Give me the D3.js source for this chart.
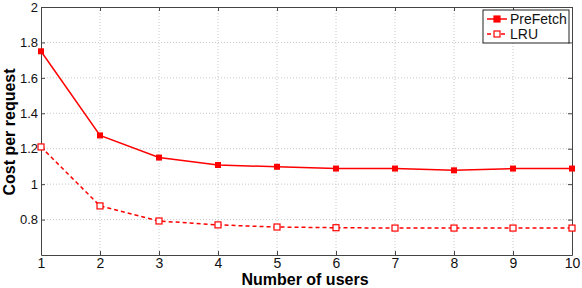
<!DOCTYPE html>
<html>
<head>
<meta charset="utf-8">
<script src="https://cdn.jsdelivr.net/npm/d3@7"></script>
<style>
  body { margin: 0; background: #fff; }
  svg { font-family: "Liberation Sans", Arial, sans-serif; }
  .grid line { stroke: #c8c8c8; stroke-dasharray: 1,2; }
</style>
</head>
<body>
<div id="chart"></div>
<script>
// data
const users = [1, 2, 3, 4, 5, 6, 7, 8, 9, 10];
const prefetch = [1.75, 1.275, 1.15, 1.108, 1.098, 1.088, 1.088, 1.078, 1.088, 1.088];
const lru = [1.21, 0.877, 0.792, 0.77, 0.758, 0.754, 0.752, 0.752, 0.752, 0.752];
const yTicks = [0.8, 1, 1.2, 1.4, 1.6, 1.8, 2];

const width = 582, height = 288;
const margin = {top: 7, right: 10, bottom: 33, left: 41};
const w = width - margin.left - margin.right;
const h = height - margin.top - margin.bottom;

const svg = d3.select("#chart").append("svg")
    .attr("width", width).attr("height", height);
const g = svg.append("g").attr("transform", `translate(${margin.left},${margin.top})`);

const x = d3.scaleLinear().domain([1, 10]).range([0, w]);
const y = d3.scaleLinear().domain([0.6, 2]).range([h, 0]);

// grid
g.append("g").attr("class", "grid")
    .selectAll("line").data(users.slice(1, -1)).join("line")
    .attr("x1", d => x(d)).attr("x2", d => x(d)).attr("y1", 0).attr("y2", h);
g.append("g").attr("class", "grid")
    .selectAll("line").data(yTicks.slice(0, -1)).join("line")
    .attr("x1", 0).attr("x2", w).attr("y1", d => y(d)).attr("y2", d => y(d));

// axes (box style)
const axisColor = "#444";
const styleAxis = size => sel => {
  sel.select(".domain").attr("stroke", axisColor);
  sel.selectAll(".tick line").attr("stroke", axisColor);
  sel.selectAll(".tick text").attr("fill", "#111").style("font-size", size);
};
g.append("g").attr("transform", `translate(0,${h})`)
    .call(d3.axisBottom(x).tickValues(users).tickFormat(d3.format("d")).tickSizeInner(-4).tickSizeOuter(0).tickPadding(3))
    .call(styleAxis("14px"));
g.append("g")
    .call(d3.axisLeft(y).tickValues(yTicks).tickFormat(d => d).tickSizeInner(-4).tickSizeOuter(0).tickPadding(3))
    .call(styleAxis("13px"));
g.append("g")
    .call(d3.axisTop(x).tickValues(users).tickFormat("").tickSizeInner(-4).tickSizeOuter(0))
    .call(styleAxis("13px"));
g.append("g").attr("transform", `translate(${w},0)`)
    .call(d3.axisRight(y).tickValues(yTicks).tickFormat("").tickSizeInner(-4).tickSizeOuter(0))
    .call(styleAxis("13px"));

// lines
const red = "#ff0000";
const line = d3.line().x((d, i) => x(users[i])).y(d => y(d));
g.append("path").datum(prefetch).attr("fill", "none").attr("stroke", red)
    .attr("stroke-width", 1.5).attr("d", line);
g.append("path").datum(lru).attr("fill", "none").attr("stroke", red)
    .attr("stroke-width", 1.5).attr("stroke-dasharray", "4,3").attr("d", line);

g.selectAll(".mk-pf").data(prefetch).join("rect")
    .attr("x", (d, i) => x(users[i]) - 3).attr("y", d => y(d) - 3)
    .attr("width", 6).attr("height", 6).attr("fill", red);
g.selectAll(".mk-lru").data(lru).join("rect")
    .attr("x", (d, i) => x(users[i]) - 3).attr("y", d => y(d) - 3)
    .attr("width", 6).attr("height", 6).attr("fill", "#fff")
    .attr("stroke", red).attr("stroke-width", 1.2);

// axis labels
svg.append("text")
    .attr("x", 305).attr("y", 285)
    .attr("text-anchor", "middle").style("font-size", "16px").style("font-weight", "bold")
    .text("Number of users");
svg.append("text")
    .attr("transform", "translate(15,132) rotate(-90)")
    .attr("text-anchor", "middle").style("font-size", "16px").style("font-weight", "bold")
    .text("Cost per request");

// legend
const lg = svg.append("g").attr("transform", "translate(483,10)");
lg.append("rect").attr("width", 86).attr("height", 33)
    .attr("fill", "#fff").attr("stroke", "#222").attr("stroke-width", 1);
const items = [{name: "PreFetch", dash: null, fill: red}, {name: "LRU", dash: "4,3", fill: "#fff"}];
items.forEach((it, i) => {
  const yy = 9 + i * 15;
  lg.append("line").attr("x1", 4).attr("x2", 24).attr("y1", yy).attr("y2", yy)
      .attr("stroke", red).attr("stroke-width", 1.5).attr("stroke-dasharray", it.dash);
  lg.append("rect").attr("x", 11).attr("y", yy - 3).attr("width", 6).attr("height", 6)
      .attr("fill", it.fill).attr("stroke", red).attr("stroke-width", 1.2);
  lg.append("text").attr("x", 27).attr("y", yy + 5).style("font-size", "14px")
      .attr("fill", "#111").text(it.name);
});
</script>
</body>
</html>
